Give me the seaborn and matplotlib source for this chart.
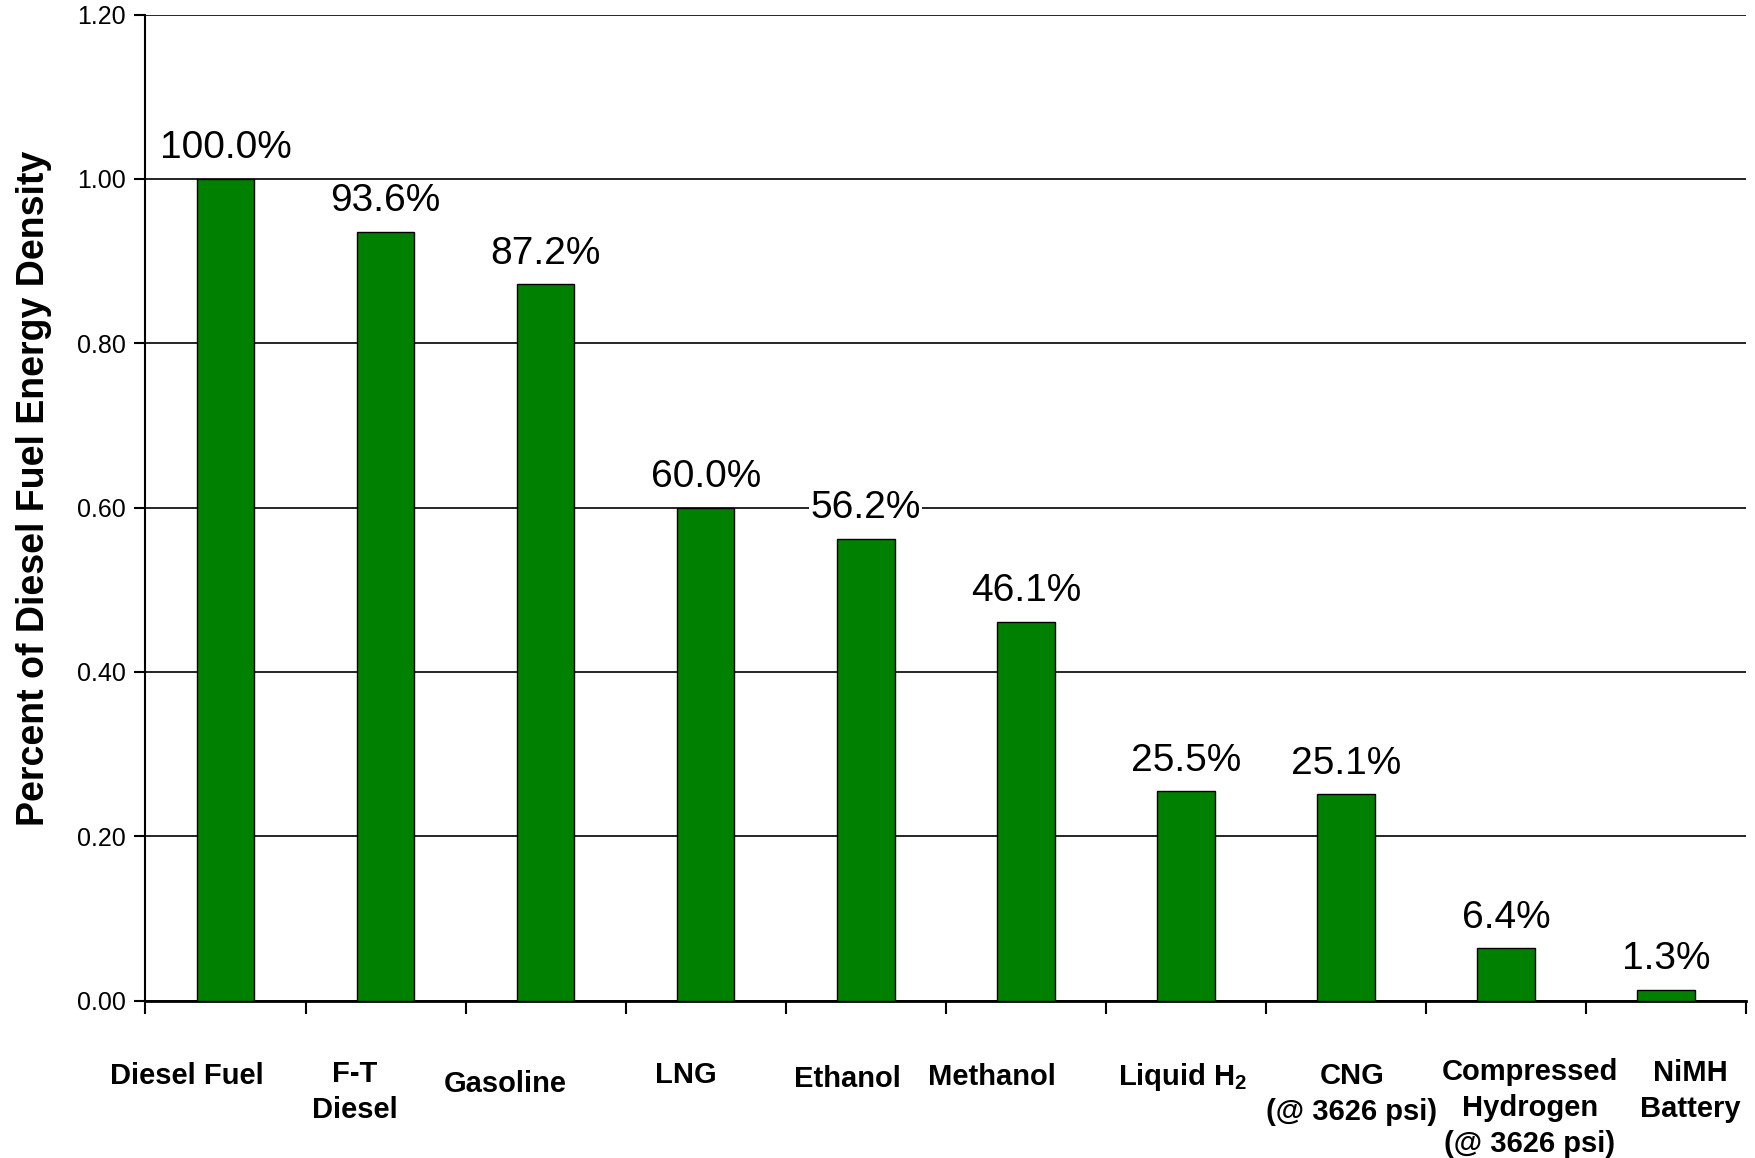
import matplotlib
matplotlib.use("Agg")
import matplotlib.pyplot as plt
import matplotlib.transforms as mtransforms
import seaborn as sns
import pandas as pd
import numpy as np
from matplotlib.ticker import FormatStrFormatter

categories = ["Diesel Fuel", "F-T\nDiesel", "Gasoline", "LNG", "Ethanol", "Methanol",
              r"Liquid H$_\mathbf{2}$", "CNG\n(@ 3626 psi)",
              "Compressed\nHydrogen\n(@ 3626 psi)", "NiMH\nBattery"]
values = [1.000, 0.936, 0.872, 0.600, 0.562, 0.461, 0.255, 0.251, 0.064, 0.013]
value_labels = ["100.0%", "93.6%", "87.2%", "60.0%", "56.2%", "46.1%",
                "25.5%", "25.1%", "6.4%", "1.3%"]
yticks = [0.0, 0.2, 0.4, 0.6, 0.8, 1.0, 1.2]

# layout: per-label nudges of the category labels (pixels), as placed in the original
label_dx = [-39, -31, -40, -20, -18, -34, -3, 6, 24, 24]
label_dy = [0, -2, 8, -1, 3, 1, -1, 0, -4, -3]

sns.set_theme(style="white")
plt.rcParams['font.family'] = ['Liberation Sans', 'DejaVu Sans']
plt.rcParams['mathtext.fontset'] = 'custom'
plt.rcParams['mathtext.rm'] = 'Liberation Sans'
plt.rcParams['mathtext.bf'] = 'Liberation Sans:bold'
plt.rcParams['text.color'] = 'black'
plt.rcParams['xtick.color'] = 'black'
plt.rcParams['ytick.color'] = 'black'
plt.rcParams['axes.labelcolor'] = 'black'

df = pd.DataFrame({"cat": categories, "val": values})

fig = plt.figure(figsize=(17.55, 11.58), dpi=100)
ax = fig.add_axes([0.0829, 0.1359, 0.9120, 0.8515])

sns.barplot(data=df, x="cat", y="val", color="#008000", saturation=1,
            width=0.36, edgecolor="black", linewidth=1.0, ax=ax, zorder=3)

ax.set_ylim(0, 1.2)
ax.set_xlim(-0.5, len(categories) - 0.5)
ax.set_yticks(yticks)
ax.yaxis.set_major_formatter(FormatStrFormatter("%.2f"))
ax.grid(axis="y", color="black", linewidth=1.2, zorder=0)
ax.grid(axis="x", visible=False)
for s in ["top", "right"]:
    ax.spines[s].set_visible(False)
ax.spines["left"].set_color("black")
ax.spines["bottom"].set_color("black")
ax.spines["left"].set_linewidth(1.5)
ax.spines["bottom"].set_linewidth(2.0)

ax.tick_params(axis="y", which="major", left=True, length=8, width=1.5,
               color="black", labelsize=18, pad=6)
ax.set_xticks(np.arange(len(categories)))
ax.set_xticklabels([""] * len(categories))
ax.set_xticks(np.arange(-0.5, len(categories)), minor=True)
ax.tick_params(axis="x", which="major", length=0)
ax.tick_params(axis="x", which="minor", bottom=True, length=9, width=1.5, color="black")

base = ax.get_xaxis_transform()
for i, (c, dx, dy) in enumerate(zip(categories, label_dx, label_dy)):
    off = mtransforms.ScaledTranslation(dx / 100, -(61 + dy) / 100, fig.dpi_scale_trans)
    ax.text(i, 0, c, transform=base + off, ha="center", va="top",
            fontsize=21, fontweight="bold", linespacing=1.38, multialignment="center")

ax.set_xlabel("")
ax.set_ylabel("Percent of Diesel Fuel Energy Density", fontsize=27,
              fontweight="bold")
ax.yaxis.set_label_coords(-0.0585, 0.52)

for i, (v, t) in enumerate(zip(values, value_labels)):
    ax.annotate(t, (i, v), xytext=(0, 9), textcoords="offset points",
                ha="center", va="bottom", fontsize=28, zorder=5,
                bbox=dict(facecolor="white", edgecolor="none", pad=1))

fig.savefig("out.png", dpi=100)
